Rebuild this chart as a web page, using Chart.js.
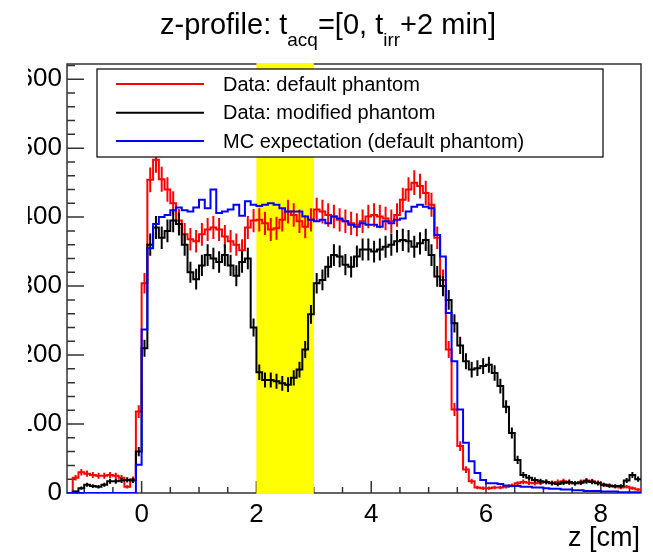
<!DOCTYPE html>
<html>
<head>
<meta charset="utf-8">
<script src="https://cdn.jsdelivr.net/npm/chart.js@4.4.1/dist/chart.umd.min.js"></script>
<style>
  html, body { margin: 0; padding: 0; background: #fff; }
  #wrap { width: 653px; height: 555px; position: relative; }
</style>
</head>
<body>
<div id="wrap"><canvas id="c"></canvas></div>
<script>
// histogram binning along z (cm)
const binLow = -1.3
const binWidth = 0.1
const zRange = [-1.3, 8.7]
const yRange = [0, 622]
const xTicks = [0, 2, 4, 6, 8]
const yTicks = [0, 100, 200, 300, 400, 500, 600]
const irradiationBand = [2, 3]

const seriesNames = ['Data: default phantom', 'Data: modified phantom', 'MC expectation (default phantom)']

// counts per 1 mm bin
const defaultPhantom = [
  0, 22, 30, 28, 26, 25, 25, 26, 25, 22,
  9, 20, 118, 304, 454, 483, 455, 440, 420, 395,
  375, 368, 365, 375, 382, 385, 382, 372, 365, 360,
  352, 385, 395, 396, 391, 382, 384, 396, 408, 403,
  394, 386, 396, 411, 408, 403, 401, 396, 394, 391,
  389, 394, 401, 403, 401, 398, 394, 403, 425, 440,
  450, 445, 435, 418, 370, 309, 208, 121, 68, 34,
  17, 8, 7, 7, 8, 8, 9, 11, 14, 16,
  15, 14, 15, 16, 15, 16, 17, 15, 14, 16,
  18, 17, 15, 12, 10, 9, 8, 9, 7, 5
]
const modifiedPhantom = [
  0, 2, 7, 12, 10, 9, 12, 17, 17, 18,
  19, 18, 60, 210, 360, 385, 370, 380, 395, 390,
  360, 320, 310, 330, 345, 340, 335, 345, 330, 315,
  335, 340, 240, 175, 164, 164, 162, 159, 157, 167,
  179, 208, 259, 304, 309, 328, 345, 343, 331, 328,
  343, 353, 353, 350, 353, 357, 360, 365, 367, 365,
  357, 362, 367, 345, 314, 300, 280, 246, 214, 191,
  179, 181, 184, 186, 174, 155, 125, 87, 48, 26,
  22, 19, 17, 16, 14, 13, 15, 16, 14, 15,
  17, 16, 14, 12, 11, 10, 10, 18, 26, 20
]
const mcExpectation = [
  0, 0, 0, 0, 0, 0, 0, 0, 0, 0,
  0, 0, 41, 237, 355, 390, 400, 403, 410, 414,
  410, 408, 414, 425, 413, 440, 406, 408, 411, 418,
  402, 423, 418, 416, 418, 420, 418, 413, 408, 408,
  408, 401, 396, 394, 396, 391, 401, 398, 394, 389,
  386, 391, 389, 389, 386, 394, 391, 396, 398, 408,
  415, 418, 415, 413, 374, 343, 261, 191, 121, 73,
  46, 29, 19, 14, 14, 13, 11, 10, 10, 9,
  9, 8, 8, 7, 6, 6, 5, 5, 4, 4,
  3, 3, 3, 2, 2, 2, 1, 1, 1, 1
]

const FONT = '"Liberation Sans", Arial, Helvetica, sans-serif'

// step outline: one point per bin low edge, plus the last high edge
function toSteps(vals) {
  const pts = vals.map((v, i) => ({ x: +(binLow + i * binWidth).toFixed(2), y: v }))
  pts.push({ x: +(binLow + vals.length * binWidth).toFixed(2), y: vals[vals.length - 1] })
  return pts
}

function histDataset(label, vals, color, order, withErrors) {
  return {
    label,
    data: toSteps(vals),
    counts: vals,
    withErrors,
    borderColor: color,
    borderWidth: 2,
    stepped: 'before',
    pointRadius: 0,
    fill: false,
    order
  }
}

const rootStyle = {
  id: 'rootStyle',
  beforeDatasetsDraw(chart) {
    const { ctx, chartArea: a, scales: { x, y } } = chart
    ctx.save()
    // frame
    ctx.strokeStyle = '#333'
    ctx.lineWidth = 1.5
    ctx.strokeRect(a.left, a.top, a.right - a.left, a.bottom - a.top)
    // inward ticks
    ctx.beginPath()
    for (let v = yRange[0]; v <= yRange[1]; v += 20) {
      const py = y.getPixelForValue(v)
      const len = v % 100 === 0 ? 17 : 8
      ctx.moveTo(a.left, py); ctx.lineTo(a.left + len, py)
    }
    for (let v = -1; v <= zRange[1]; v += 0.5) {
      const px = x.getPixelForValue(v)
      const len = Math.abs(v % 2) < 1e-6 ? 12 : 6
      ctx.moveTo(px, a.bottom); ctx.lineTo(px, a.bottom - len)
    }
    ctx.stroke()
    // irradiation window
    const x0 = x.getPixelForValue(irradiationBand[0])
    const x1 = x.getPixelForValue(irradiationBand[1])
    ctx.fillStyle = '#ffff00'
    ctx.fillRect(x0, a.top - 1, x1 - x0, a.bottom - a.top + 2)
    ctx.restore()
  },
  afterDatasetDraw(chart, args) {
    const ds = chart.data.datasets[args.index]
    if (!ds.withErrors) return
    const { ctx, scales: { x, y } } = chart
    ctx.save()
    ctx.strokeStyle = ds.borderColor
    ctx.lineWidth = 2
    ctx.beginPath()
    ds.counts.forEach((v, i) => {
      const err = 0.85 * Math.sqrt(v)
      if (err <= 0) return
      const px = x.getPixelForValue(binLow + (i + 0.5) * binWidth)
      ctx.moveTo(px, y.getPixelForValue(v - err))
      ctx.lineTo(px, y.getPixelForValue(v + err))
    })
    ctx.stroke()
    ctx.restore()
  },
  afterDraw(chart) {
    const { ctx } = chart
    ctx.save()
    // legend box
    const lx = 97, ly = 69, lw = 506, lh = 88
    ctx.fillStyle = '#fff'
    ctx.fillRect(lx, ly, lw, lh)
    ctx.strokeStyle = '#000'
    ctx.lineWidth = 1.2
    ctx.strokeRect(lx, ly, lw, lh)
    const rows = [84, 112.7, 141]
    ctx.font = '20px ' + FONT
    ctx.textBaseline = 'middle'
    ctx.textAlign = 'left'
    chart.data.datasets.forEach((ds, i) => {
      ctx.strokeStyle = ds.borderColor
      ctx.lineWidth = 2
      ctx.beginPath(); ctx.moveTo(116, rows[i]); ctx.lineTo(204, rows[i]); ctx.stroke()
      ctx.fillStyle = '#000'
      ctx.fillText(ds.label, 223, rows[i] + 1)
    })
    // title with subscripts
    const parts = [['z-profile: t', false], ['acq', true], ['=[0, t', false], ['irr', true], ['+2 min]', false]]
    const big = '29px ' + FONT, small = '19px ' + FONT
    let total = 0
    parts.forEach(([t, sub]) => { ctx.font = sub ? small : big; total += ctx.measureText(t).width })
    let tx = 328 - total / 2
    ctx.textBaseline = 'alphabetic'
    ctx.fillStyle = '#000'
    parts.forEach(([t, sub]) => {
      ctx.font = sub ? small : big
      ctx.fillText(t, tx, sub ? 46 : 34)
      tx += ctx.measureText(t).width
    })
    // axis title
    ctx.font = '27px ' + FONT
    ctx.textAlign = 'right'
    ctx.fillText('z [cm]', 640, 546)
    // the source picture is cut on its left edge
    ctx.fillStyle = '#fff'
    ctx.fillRect(0, 0, 28, chart.height)
    ctx.restore()
  }
}

new Chart(document.getElementById('c'), {
  type: 'line',
  data: {
    datasets: [
      histDataset(seriesNames[0], defaultPhantom, '#ff0000', 3, true),
      histDataset(seriesNames[1], modifiedPhantom, '#000000', 2, true),
      histDataset(seriesNames[2], mcExpectation, '#0000ff', 1, false)
    ]
  },
  options: {
    responsive: true,
    maintainAspectRatio: false,
    animation: false,
    layout: { padding: { left: 0, right: 12, top: 64, bottom: 0 } },
    plugins: { legend: { display: false }, tooltip: { enabled: false }, title: { display: false } },
    scales: {
      x: {
        type: 'linear',
        min: zRange[0],
        max: zRange[1],
        afterBuildTicks: axis => { axis.ticks = xTicks.map(v => ({ value: v })) },
        afterFit: axis => { axis.height = 62 },
        ticks: { font: { family: FONT, size: 26 }, color: '#000', padding: 6, maxRotation: 0, autoSkip: false },
        grid: { display: false, drawTicks: false },
        border: { display: false }
      },
      y: {
        min: yRange[0],
        max: yRange[1],
        afterBuildTicks: axis => { axis.ticks = yTicks.map(v => ({ value: v })) },
        afterFit: axis => { axis.width = 67 },
        ticks: { font: { family: FONT, size: 26 }, color: '#000', padding: 5 },
        grid: { display: false, drawTicks: false },
        border: { display: false }
      }
    }
  },
  plugins: [rootStyle]
})
</script>
</body>
</html>
